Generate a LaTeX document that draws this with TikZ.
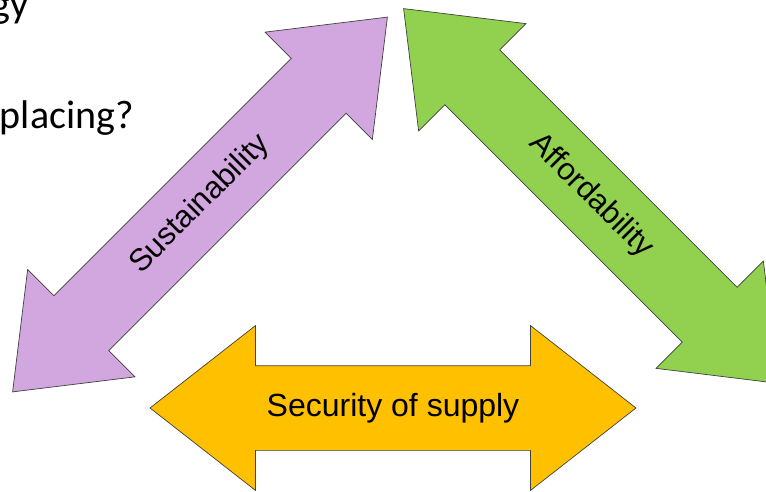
\documentclass[tikz,border=0pt]{standalone}
\usepackage{fontspec}
\setmainfont{Liberation Sans}
\newfontfamily\slidefont{Carlito}
\usetikzlibrary{shapes.arrows}

\definecolor{lavender}{RGB}{210,166,222}
\definecolor{leafgreen}{RGB}{146,208,80}
\definecolor{gold}{RGB}{255,192,0}

\begin{document}
\begin{tikzpicture}[x=1pt,y=-1pt,
		twoway/.style={double arrow, draw=black!75, line width=0.7pt,
			inner xsep=0pt, inner ysep=24.5pt, text height=22pt, text depth=6pt,
			double arrow tip angle=76, double arrow head extend=37pt,
			minimum height=530pt, minimum width=151pt,
			font=\fontsize{31}{37}\selectfont},
		slide/.style={inner sep=0pt, font=\slidefont\fontsize{40}{48}\selectfont}]
		\useasboundingbox (0,0) rectangle (766,492);
		\clip (0,0) rectangle (766,492);
		% slide text cut at the edge
		\node[slide, anchor=base east] (title) at (29,18) {gy};
		\node[slide, anchor=base east] (question) at (134,129) {placing?};
		% the three sides
		\node[twoway, fill=lavender, rotate=45] (sus) at (200,204.5) {Sustainability};
		\node[twoway, fill=leafgreen, rotate=-45] (aff) at (591,196) {Affordability};
		\node[twoway, fill=gold, minimum height=486pt, minimum width=164pt,
			inner ysep=27pt, text height=23pt, text depth=7pt,
			double arrow head extend=40pt, font=\fontsize{32}{38}\selectfont] (sec) at (393,408) {Security of supply};
	\end{tikzpicture}
\end{document}
